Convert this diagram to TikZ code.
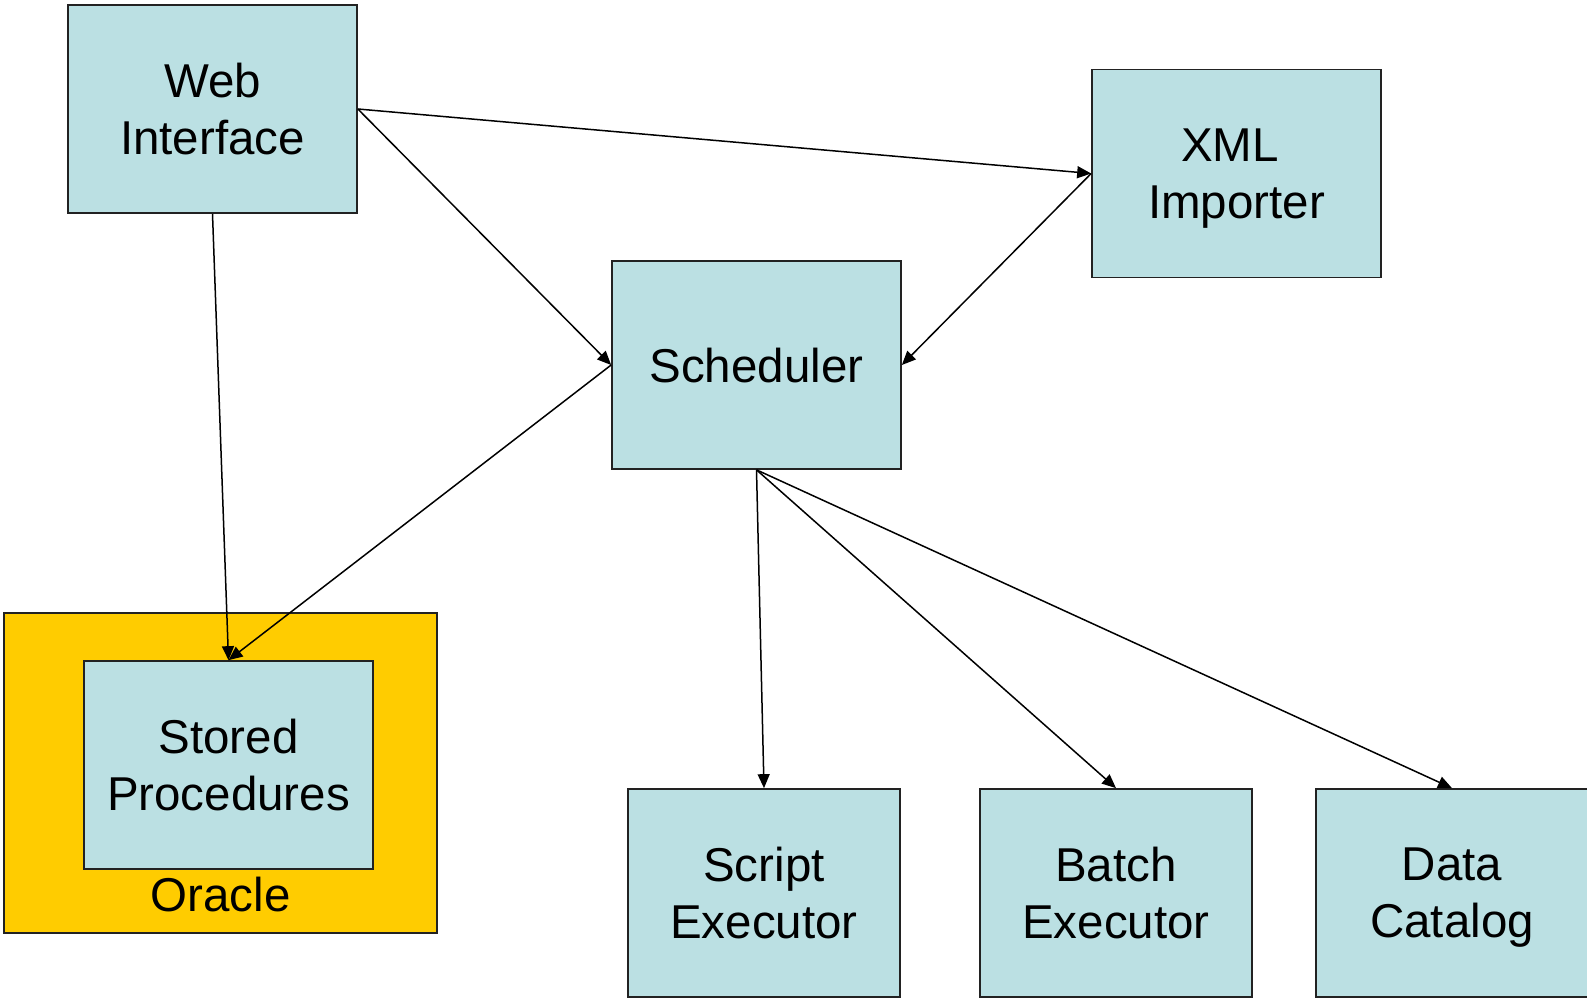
\documentclass[tikz,border=0pt]{standalone}
\usepackage{fontspec}
\setmainfont{Liberation Sans}
\usetikzlibrary{arrows.meta}
\definecolor{boxblue}{HTML}{BBE0E3}
\definecolor{oragold}{HTML}{FFCC00}
\definecolor{edgegray}{HTML}{222222}
\begin{document}
\begin{tikzpicture}[x=1pt,y=-1pt,
  comp/.style={draw=edgegray,line width=1.7pt,fill=boxblue,rectangle,inner sep=0pt,
    minimum width=289pt,minimum height=208pt,align=center,text depth=0pt,
    font=\fontsize{47.5}{57}\selectfont},
  compb/.style={comp,minimum width=272pt},
  dbbox/.style={draw=edgegray,line width=1.7pt,fill=oragold,rectangle,inner sep=0pt,
    minimum width=433pt,minimum height=320pt},
  conn/.style={line width=1.5pt,-{Triangle[length=14pt,width=12pt]}}]
\useasboundingbox (0,0) rectangle (1587,1000);
\clip (0,0) rectangle (1587,1000);
\node[dbbox] (oracle) at (220.5,773) {};
\node[anchor=base,font=\fontsize{47.5}{57}\selectfont] (oraclelbl) at (220.5,911) {Oracle};
\node[comp] (web) at (212.5,109) {Web\\Interface};
\node[comp] (xml) at (1236.5,173.5) {XML\kern13pt\null\\Importer};
\node[comp] (sched) at (756.5,365) {Scheduler};
\node[comp] (stored) at (228.5,765) {Stored\\Procedures};
\node[compb] (script) at (764,893) {Script\\Executor};
\node[compb] (batch) at (1116,893) {Batch\\Executor};
\node[compb] (data) at (1452,893) {Data\\Catalog};
\draw[conn] (web.east) -- (xml.west);
\draw[conn] (web.east) -- (sched.west);
\draw[conn] (xml.west) -- (sched.east);
\draw[conn] (web.south) -- (stored.north);
\draw[conn] (sched.west) -- (stored.north);
\draw[conn] (sched.south) -- (script.north);
\draw[conn] (sched.south) -- (batch.north);
\draw[conn] (sched.south) -- (data.north);
\end{tikzpicture}
\end{document}
